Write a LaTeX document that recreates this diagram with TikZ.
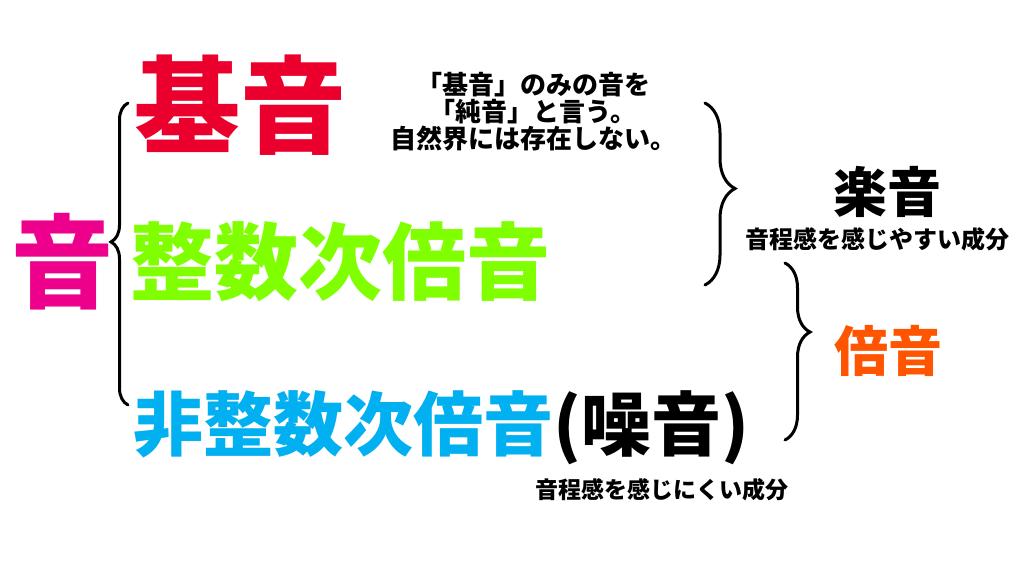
\documentclass[tikz,border=0pt]{standalone}
\usepackage{fontspec}
\newfontfamily\jpfont{Noto Sans CJK JP}
\usetikzlibrary{decorations.pathreplacing}
\definecolor{otopink}{RGB}{236,0,140}
\definecolor{kired}{RGB}{235,0,45}
\definecolor{seigreen}{RGB}{128,255,0}
\definecolor{hicyan}{RGB}{0,176,240}
\definecolor{baiorange}{RGB}{255,85,0}

\begin{document}
\begin{tikzpicture}[
    x=1pt, y=-1pt,
    big/.style={font=\jpfont\bfseries\fontsize{#1}{#1}\selectfont, inner sep=0pt},
    small/.style={font=\jpfont\bfseries\fontsize{#1}{27}\selectfont, inner sep=0pt, align=center},
    curly/.style={decorate, decoration={brace, amplitude=#1}, line width=3pt, line cap=round}
]
\useasboundingbox[fill=white] (0,0) rectangle (1024,576);

% main words
\node[big=102, otopink] (oto) at (62,262) {音};
\node[big=106, kired] (kion) at (240,105) {基音};
\node[big=84, seigreen] (seisu) at (340,262) {整数次倍音};
\node[big=70] (hiseisu) at (441,428) {\textcolor{hicyan}{非整数次倍音}(噪音)};

% notes
\node[small=26] (note) at (533,112) {「基音」のみの音を\\「純音」と言う。\\自然界には存在しない。};
\node[big=54] (gakuon) at (887,192) {楽音};
\node[small=24] (gakuonsub) at (877,239) {音程感を感じやすい成分};
\node[big=54, baiorange] (baion) at (888,351) {倍音};
\node[small=23] (noisesub) at (662,490) {音程感を感じにくい成分};

% braces
\coordinate (lb1) at (128,405);
\coordinate (lb2) at (128,103);
\coordinate (rb1) at (705,103);
\coordinate (rb2) at (705,285);
\coordinate (rc1) at (785,263);
\coordinate (rc2) at (785,440);
\draw[curly=17, decoration={aspect=0.54}] (lb1) -- (lb2);
\draw[curly=30, decoration={aspect=0.47}] (rb1) -- (rb2);
\draw[curly=25, decoration={aspect=0.39}] (rc1) -- (rc2);
\end{tikzpicture}
\end{document}
